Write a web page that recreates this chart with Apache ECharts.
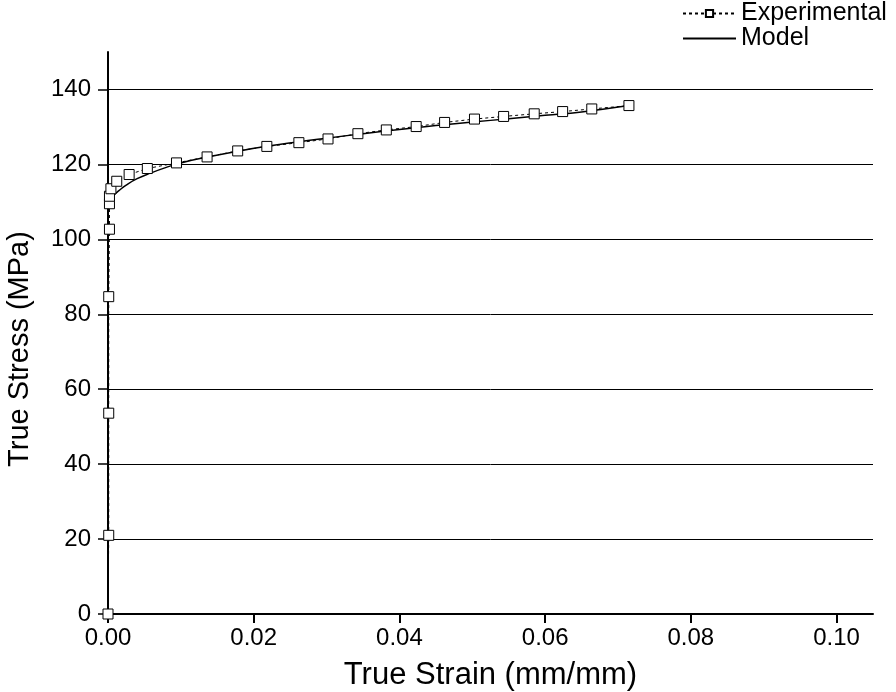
<!DOCTYPE html>
<html>
<head>
<meta charset="utf-8">
<script src="https://cdn.jsdelivr.net/npm/echarts@6/dist/echarts.min.js"></script>
<style>html,body{margin:0;padding:0;background:#fff;}#c{width:896px;height:692px;}</style>
</head>
<body>
<div id="c"></div>
<script>
var strainExp = [0, 0.0001, 0.0001, 0.0001, 0.0002, 0.0002, 0.0002, 0.0004, 0.0012, 0.0029, 0.0054, 0.0094, 0.0136, 0.0178, 0.0218, 0.0262, 0.0302, 0.0343, 0.0382, 0.0423, 0.0462, 0.0503, 0.0543, 0.0585, 0.0624, 0.0664, 0.0715];
var stressExp = [0, 21, 53.6, 84.7, 102.7, 109.5, 111.5, 113.5, 115.5, 117.3, 118.9, 120.4, 122.0, 123.6, 124.8, 125.8, 126.8, 128.2, 129.2, 130.1, 131.2, 132.1, 132.8, 133.5, 134.1, 134.8, 135.7];
var strainModel = [0.0005, 0.0008, 0.0015, 0.0025, 0.004, 0.006, 0.008, 0.010, 0.014, 0.018, 0.022, 0.026, 0.030, 0.035, 0.040, 0.045, 0.050, 0.055, 0.060, 0.065, 0.0715];
var stressModel = [111.0, 111.8, 113.0, 114.5, 116.2, 117.8, 119.2, 120.4, 122.1, 123.6, 124.9, 126.0, 127.0, 128.2, 129.3, 130.4, 131.3, 132.2, 133.1, 134.0, 135.7];
var xTicks = [0, 0.02, 0.04, 0.06, 0.08, 0.10];
var yTicks = [0, 20, 40, 60, 80, 100, 120, 140];
var seriesNames = ['Experimental', 'Model'];
var xAxisTitle = 'True Strain (mm/mm)';
var yAxisTitle = 'True Stress (MPa)';

function pairs(xs, ys) { return xs.map(function (x, i) { return [x, ys[i]]; }); }

var font = 'Liberation Sans, Arial, sans-serif';
var chart = echarts.init(document.getElementById('c'));
chart.setOption({
  animation: false,
  backgroundColor: '#fff',
  grid: { left: 108, right: 23, top: 52, bottom: 78, outerBoundsMode: 'none', containLabel: false },
  legend: {
    orient: 'vertical', left: 682, top: 1, padding: 0, itemWidth: 53, itemHeight: 9, itemGap: 0,
    textStyle: { fontFamily: font, fontSize: 25, lineHeight: 20, color: '#000', padding: [0, 0, 0, 0] },
    data: [
      { name: seriesNames[0] },
      { name: seriesNames[1], itemStyle: { opacity: 0 } }
    ]
  },
  xAxis: {
    type: 'value', min: 0, max: 0.105,
    name: xAxisTitle, nameLocation: 'middle', nameGap: 46,
    nameTextStyle: { fontFamily: font, fontSize: 31, color: '#000' },
    axisLine: { onZero: false, lineStyle: { color: '#000', width: 2 } },
    axisTick: { show: true, length: 9, customValues: xTicks, lineStyle: { color: '#000', width: 2 } },
    axisLabel: { fontFamily: font, fontSize: 24, color: '#000', margin: 12, customValues: xTicks,
      formatter: function (v) { return v.toFixed(2); } },
    splitLine: { show: false }
  },
  yAxis: {
    type: 'value', min: 0, max: 150,
    name: yAxisTitle, nameLocation: 'middle', nameGap: 74,
    nameTextStyle: { fontFamily: font, fontSize: 29, color: '#000', padding: [0, 32, 0, 0] },
    axisLine: { show: true, lineStyle: { color: '#000', width: 2 } },
    axisTick: { show: true, length: 10, customValues: yTicks, lineStyle: { color: '#000', width: 1.5 } },
    axisLabel: { fontFamily: font, fontSize: 24, color: '#000', margin: 17, customValues: yTicks },
    splitLine: { show: true, lineStyle: { color: '#000', width: 1 } }
  },
  series: [
    {
      name: seriesNames[0], type: 'line', data: pairs(strainExp, stressExp),
      symbol: 'rect', symbolSize: 10, showAllSymbol: true,
      itemStyle: { color: '#fff', borderColor: '#000', borderWidth: 1 },
      lineStyle: { color: '#000', width: 1, type: [3, 3] },
      z: 3
    },
    {
      name: seriesNames[1], type: 'line', data: pairs(strainModel, stressModel),
      symbol: 'none', smooth: true,
      itemStyle: { color: '#000' },
      lineStyle: { color: '#000', width: 1.5 },
      z: 2
    }
  ]
});
</script>
</body>
</html>
